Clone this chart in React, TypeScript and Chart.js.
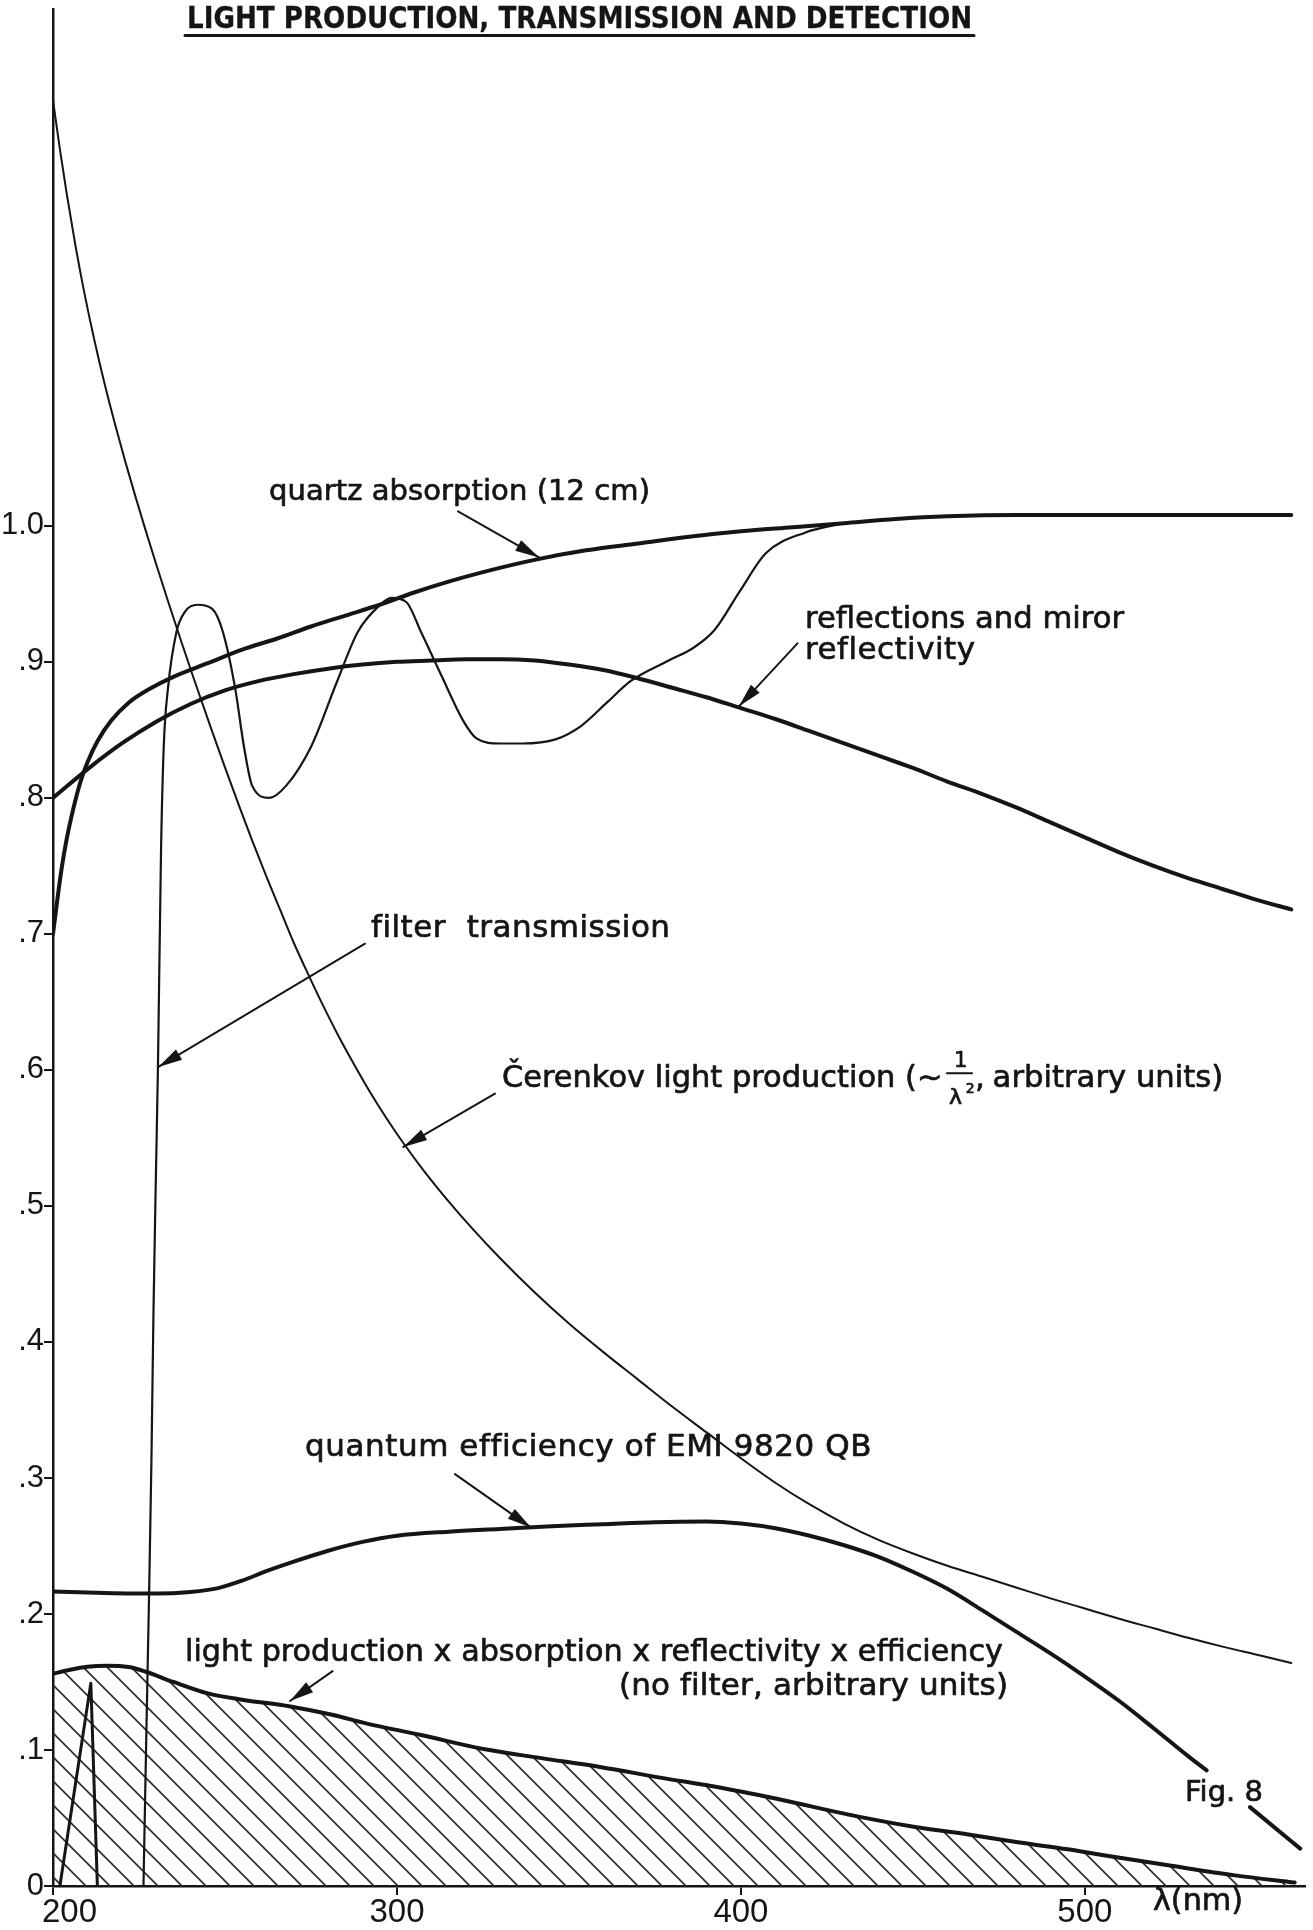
import React, { useEffect, useRef } from 'react';
import { Chart, registerables } from 'chart.js';

Chart.register(...registerables);

// ---------- data (wavelength in nm, relative values) ----------
const quartzWavelength = [200, 201, 202.5, 204, 206, 208, 210, 213, 217, 222, 228, 235, 245, 255, 265, 275, 285, 295, 305, 315, 325, 340, 355, 370, 385, 400, 415, 430, 445, 460, 480, 520, 560];
const quartzValue = [0.7, 0.72, 0.748, 0.77, 0.793, 0.812, 0.826, 0.842, 0.857, 0.87, 0.88, 0.889, 0.899, 0.909, 0.917, 0.926, 0.934, 0.942, 0.951, 0.959, 0.966, 0.975, 0.982, 0.987, 0.992, 0.996, 0.999, 1.002, 1.005, 1.007, 1.008, 1.008, 1.008];

const reflWavelength = [200, 210, 220, 230, 240, 250, 260, 270, 280, 290, 300, 310, 320, 330, 340, 350, 360, 370, 380, 390, 400, 410, 420, 430, 440, 450, 460, 470, 480, 490, 500, 510, 520, 530, 540, 550, 560];
const reflValue = [0.8, 0.821, 0.84, 0.856, 0.869, 0.879, 0.886, 0.891, 0.895, 0.898, 0.9, 0.901, 0.902, 0.902, 0.901, 0.898, 0.894, 0.888, 0.881, 0.874, 0.866, 0.858, 0.849, 0.84, 0.831, 0.822, 0.812, 0.803, 0.793, 0.782, 0.771, 0.76, 0.75, 0.741, 0.733, 0.725, 0.718];

const filterWavelength = [226.3, 227.2, 227.9, 228.6, 229.2, 229.9, 230.5, 231.4, 232.2, 233.4, 235.9, 238.4, 242, 246.3, 249.4, 253, 255.5, 257.9, 262.9, 267.8, 275.1, 282.5, 288.6, 294.7, 298.4, 302.7, 307, 313.1, 319.2, 323, 330, 336.4, 346.1, 353.6, 361, 368, 379, 386, 392.2, 399.7, 407.3, 418.6, 429.9];
const filterValue = [0, 0.12, 0.21, 0.31, 0.42, 0.52, 0.6, 0.76, 0.838, 0.88, 0.922, 0.937, 0.942, 0.939, 0.922, 0.88, 0.838, 0.809, 0.8, 0.809, 0.838, 0.885, 0.922, 0.941, 0.947, 0.944, 0.922, 0.889, 0.857, 0.844, 0.84, 0.84, 0.843, 0.853, 0.87, 0.886, 0.901, 0.91, 0.923, 0.952, 0.98, 0.995, 1.002];

const cerenkovWavelength = [200, 202, 204, 206.5, 209, 212, 215, 218, 221, 224, 227, 230, 233.4, 237, 241, 245.7, 250, 254, 257.8, 262, 266, 270, 273.7, 278, 283, 288, 292.2, 297, 301.9, 308, 315.5, 322, 330, 340, 350, 360, 370, 380, 390, 400, 410, 420, 430, 440, 450, 460, 470, 480, 490, 500, 510, 520, 530, 540, 550, 560];
const cerenkovValue = [1.313, 1.277, 1.244, 1.2065, 1.1728, 1.1368, 1.1044, 1.075, 1.0474, 1.0213, 0.9961, 0.9718, 0.9449, 0.9172, 0.8872, 0.8529, 0.8224, 0.7948, 0.7693, 0.7424, 0.718, 0.6935, 0.673, 0.65, 0.625, 0.602, 0.5836, 0.5643, 0.5461, 0.5253, 0.5019, 0.4831, 0.4615, 0.4365, 0.4135, 0.3925, 0.3725, 0.3525, 0.3335, 0.3145, 0.2965, 0.2805, 0.2665, 0.2545, 0.2445, 0.2355, 0.2275, 0.2195, 0.2115, 0.204, 0.1965, 0.1895, 0.1825, 0.176, 0.17, 0.164];

const qeWavelength = [200, 215, 230, 240, 248, 255, 262, 270, 280, 290, 300, 315, 330, 345, 360, 375, 390, 400, 410, 420, 430, 440, 450, 460, 470, 480, 490, 500, 510, 520, 530, 535.4, 541, 548, 562.6];
const qeValue: (number | null)[] = [0.2165, 0.2155, 0.215, 0.2162, 0.219, 0.2245, 0.2315, 0.2385, 0.2465, 0.253, 0.2575, 0.2605, 0.2625, 0.2645, 0.266, 0.2675, 0.268, 0.2665, 0.263, 0.2575, 0.2505, 0.242, 0.231, 0.2185, 0.203, 0.187, 0.171, 0.154, 0.136, 0.116, 0.0955, 0.085, null, 0.058, 0.0275];

const productWavelength = [200, 205, 210, 215.6, 222, 227, 235, 245, 255, 269, 281.5, 291, 307, 325.6, 342, 359, 377, 394.6, 412.4, 431.3, 450.2, 468, 481, 495, 505, 524.2, 543.6, 561];
const productValue = [0.156, 0.159, 0.1612, 0.162, 0.161, 0.1575, 0.15, 0.1416, 0.137, 0.132, 0.1257, 0.1196, 0.111, 0.1005, 0.094, 0.0875, 0.0795, 0.072, 0.063, 0.0525, 0.0436, 0.0372, 0.032, 0.027, 0.0228, 0.0152, 0.0078, 0.0025];

const spikeWavelength = [202, 211, 212.9];
const spikeValue = [0, 0.149, 0];

const xTickValues = [200, 300, 400, 500];
const xTickLabels = ['200', '300', '400', '500'];
const yTickValues = [0, 0.1, 0.2, 0.3, 0.4, 0.5, 0.6, 0.7, 0.8, 0.9, 1.0];
const yTickLabels = ['0', '.1', '.2', '.3', '.4', '.5', '.6', '.7', '.8', '.9', '1.0'];

// ---------- annotation layout (in data units) ----------
const FONT = '"DejaVu Sans", "Liberation Sans", sans-serif';
const TICK_FONT = '"Liberation Sans", Arial, "DejaVu Sans", sans-serif';
type TextSpec = { text: string; left: number; right?: number; base: number; size: number; bold?: boolean };
const textSpecs: TextSpec[] = [
  { text: 'LIGHT PRODUCTION, TRANSMISSION AND DETECTION', left: 238.96, right: 467.2, base: 1.3657, size: 31, bold: true },
  { text: 'quartz absorption (12 cm)', left: 262.8, right: 373.57, base: 1.0191, size: 29 },
  { text: 'reflections and miror', left: 418.63, right: 511.37, base: 0.9246, size: 31 },
  { text: 'reflectivity', left: 418.63, right: 468.05, base: 0.9019, size: 31 },
  { text: 'filter  transmission', left: 292.45, right: 379.38, base: 0.6979, size: 31 },
  { text: 'Čerenkov light production (~', left: 330.54, right: 458.6, base: 0.5873, size: 31 },
  { text: '1', left: 461.95, base: 0.602, size: 21 },
  { text: 'λ', left: 460.5, base: 0.5748, size: 22 },
  { text: '2', left: 465.4, base: 0.5829, size: 14 },
  { text: ',', left: 468.05, base: 0.5873, size: 31 },
  { text: 'arbitrary units)', left: 473.17, right: 540.24, base: 0.5873, size: 31 },
  { text: 'quantum efficiency of EMI 9820 QB', left: 273.26, right: 437.82, base: 0.3161, size: 31 },
  { text: 'light production x absorption x reflectivity x efficiency', left: 238.38, right: 476.2, base: 0.1654, size: 31 },
  { text: '(no filter, arbitrary units)', left: 364.55, right: 477.65, base: 0.1404, size: 31 },
  { text: 'Fig. 8', left: 529.1, right: 551.8, base: 0.0625, size: 29 },
  { text: 'λ(nm)', left: 519.8, right: 546.0, base: -0.0176, size: 31 },
];
const ruleSpecs = [
  { x0: 238.38, x1: 467.76, v0: 1.3605, v1: 1.3605, width: 3 },
  { x0: 459.9, x1: 467.2, v0: 0.5976, v1: 0.5976, width: 2 },
];
const arrowSpecs = [
  { x0: 317.75, v0: 1.0107, x1: 341.3, v1: 0.9768 },
  { x0: 416.45, v0: 0.9136, x1: 399.44, v1: 0.8673 },
  { x0: 290.71, v0: 0.6928, x1: 230.64, v1: 0.6022 },
  { x0: 328.5, v0: 0.5826, x1: 301.87, v1: 0.5434 },
  { x0: 316.87, v0: 0.3028, x1: 338.97, v1: 0.2635 },
  { x0: 281.29, v0: 0.158, x1: 268.9, v1: 0.136 },
];

const INK = '#151515';

function drawText(ctx: CanvasRenderingContext2D, t: TextSpec, x0: number, x1: number | null, base: number) {
  ctx.font = `${t.bold ? 'bold ' : ''}${t.size}px ${FONT}`;
  (ctx as any).letterSpacing = '0px';
  ctx.textAlign = 'left';
  ctx.textBaseline = 'alphabetic';
  ctx.lineWidth = t.bold ? 0.3 : 0.7;
  ctx.lineJoin = 'round';
  const w = ctx.measureText(t.text).width;
  if (x1 === null) {
    ctx.fillText(t.text, x0, base);
    ctx.strokeText(t.text, x0, base);
    return;
  }
  const target = x1 - x0;
  if (w >= target) {
    ctx.save();
    ctx.translate(x0, base);
    ctx.scale(target / w, 1);
    ctx.fillText(t.text, 0, 0);
    ctx.strokeText(t.text, 0, 0);
    ctx.restore();
  } else {
    const n = Array.from(t.text).length;
    const ls = n > 1 ? (target - w) / (n - 1) : 0;
    (ctx as any).letterSpacing = `${ls}px`;
    ctx.fillText(t.text, x0, base);
    ctx.strokeText(t.text, x0, base);
    (ctx as any).letterSpacing = '0px';
  }
}

function drawArrow(ctx: CanvasRenderingContext2D, x0: number, y0: number, x1: number, y1: number) {
  ctx.lineWidth = 2;
  ctx.beginPath();
  ctx.moveTo(x0, y0);
  ctx.lineTo(x1, y1);
  ctx.stroke();
  const a = Math.atan2(y1 - y0, x1 - x0);
  const L = 24;
  const W = 6;
  const bx = x1 - L * Math.cos(a);
  const by = y1 - L * Math.sin(a);
  ctx.beginPath();
  ctx.moveTo(x1, y1);
  ctx.lineTo(bx + W * Math.sin(a), by - W * Math.cos(a));
  ctx.lineTo(bx - W * Math.sin(a), by + W * Math.cos(a));
  ctx.closePath();
  ctx.fill();
}

const annotationPlugin = {
  id: 'figAnnotations',
  afterDraw(chart: any) {
    const { ctx } = chart;
    const xs = chart.scales.x;
    const ys = chart.scales.y;
    const X = (v: number) => xs.getPixelForValue(v);
    const Y = (v: number) => ys.getPixelForValue(v);
    ctx.save();
    ctx.fillStyle = INK;
    ctx.strokeStyle = INK;
    ctx.lineCap = 'round';
    for (const t of textSpecs) drawText(ctx, t, X(t.left), t.right === undefined ? null : X(t.right), Y(t.base));
    for (const r of ruleSpecs) {
      ctx.lineWidth = r.width;
      ctx.beginPath();
      ctx.moveTo(X(r.x0), Y(r.v0));
      ctx.lineTo(X(r.x1), Y(r.v1));
      ctx.stroke();
    }
    for (const a of arrowSpecs) drawArrow(ctx, X(a.x0), Y(a.v0), X(a.x1), Y(a.v1));
    ctx.restore();
  },
};

function makeHatch(): CanvasPattern | string {
  const s = 24;
  const c = document.createElement('canvas');
  c.width = s;
  c.height = s;
  const g = c.getContext('2d');
  if (!g) return 'rgba(0,0,0,0.1)';
  g.strokeStyle = '#2a2a2a';
  g.lineWidth = 1.6;
  g.beginPath();
  g.moveTo(-2, -2);
  g.lineTo(s + 2, s + 2);
  g.moveTo(s - 2, -2);
  g.lineTo(s + 2, 2);
  g.moveTo(-2, s - 2);
  g.lineTo(2, s + 2);
  g.stroke();
  const p = g.createPattern(c, 'repeat');
  return p || 'rgba(0,0,0,0.1)';
}

const pts = (xs: number[], ys: (number | null)[]) => xs.map((x, i) => ({ x, y: ys[i] }));

export default function App() {
  const ref = useRef<HTMLCanvasElement | null>(null);

  useEffect(() => {
    if (!ref.current) return;
    const hatch = makeHatch();
    const line = (data: any, width: number, extra: any = {}) => ({
      data,
      borderColor: INK,
      borderWidth: width,
      pointRadius: 0,
      cubicInterpolationMode: 'monotone',
      fill: false,
      borderCapStyle: 'round',
      borderJoinStyle: 'round',
      spanGaps: false,
      ...extra,
    });
    const chart = new Chart(ref.current, {
      type: 'line',
      data: {
        datasets: [
          line(pts(quartzWavelength, quartzValue), 4, { label: 'quartz absorption (12 cm)' }),
          line(pts(reflWavelength, reflValue), 4, { label: 'reflections and miror reflectivity' }),
          line(pts(filterWavelength, filterValue), 2.2, { label: 'filter transmission' }),
          line(pts(cerenkovWavelength, cerenkovValue), 2, { label: 'Čerenkov light production' }),
          line(pts(qeWavelength, qeValue), 4, { label: 'quantum efficiency of EMI 9820 QB' }),
          line(pts(spikeWavelength, spikeValue), 3, { label: 'with filter', cubicInterpolationMode: 'default', tension: 0 }),
          line(pts(productWavelength, productValue), 4, {
            label: 'light production x absorption x reflectivity x efficiency',
            fill: 'origin',
            backgroundColor: hatch,
          }),
        ],
      },
      options: {
        responsive: false,
        animation: false,
        devicePixelRatio: 1,
        layout: { padding: { top: 9, right: 8, left: 0, bottom: 0 } },
        plugins: {
          legend: { display: false },
          tooltip: { enabled: false },
          title: { display: false },
        },
        scales: {
          x: {
            type: 'linear',
            min: 200,
            max: 564,
            afterBuildTicks: (s: any) => {
              s.ticks = xTickValues.map((value) => ({ value }));
            },
            afterFit: (s: any) => {
              s.height = 44;
              s.paddingLeft = 0;
              s.paddingRight = 0;
            },
            ticks: {
              autoSkip: false,
              maxRotation: 0,
              padding: 1,
              color: INK,
              font: { family: TICK_FONT, size: 33, lineHeight: 1 },
              callback: (v: any) => {
                const i = xTickValues.indexOf(Number(v));
                const lab = i >= 0 ? xTickLabels[i] : '';
                return i === 0 ? '\u2002\u2002' + lab : lab;
              },
            },
            grid: { drawOnChartArea: false, drawTicks: true, tickLength: 9, color: INK, lineWidth: 2 },
            border: { display: true, color: INK, width: 2.5 },
          },
          y: {
            type: 'linear',
            min: 0,
            max: 1.38,
            afterBuildTicks: (s: any) => {
              s.ticks = yTickValues.map((value) => ({ value }));
            },
            afterFit: (s: any) => {
              s.width = 53;
              s.paddingTop = 0;
              s.paddingBottom = 0;
            },
            ticks: {
              autoSkip: false,
              padding: 0,
              color: INK,
              font: { family: TICK_FONT, size: 31, lineHeight: 1 },
              callback: (v: any) => {
                const i = yTickValues.findIndex((t) => Math.abs(t - Number(v)) < 1e-6);
                return i >= 0 ? yTickLabels[i] : '';
              },
            },
            grid: { drawOnChartArea: false, drawTicks: true, tickLength: 9, color: INK, lineWidth: 2 },
            border: { display: true, color: INK, width: 2.5 },
          },
        },
      } as any,
      plugins: [annotationPlugin],
    });
    return () => chart.destroy();
  }, []);

  return (
    <div style={{ position: 'absolute', left: 0, top: 0, width: 1313, height: 1930, background: '#fff' }}>
      <canvas ref={ref} width={1313} height={1930} style={{ display: 'block', width: 1313, height: 1930 }} />
    </div>
  );
}
